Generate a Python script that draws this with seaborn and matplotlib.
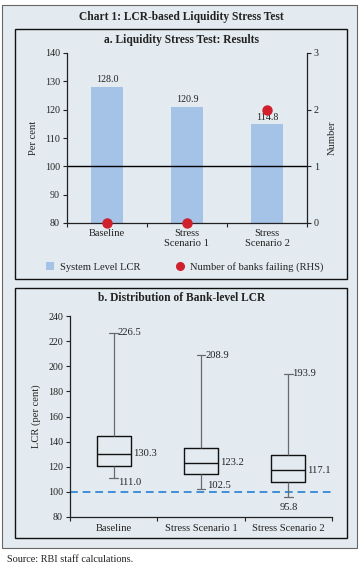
import numpy as np
import pandas as pd
import matplotlib
matplotlib.use("Agg")
import matplotlib.pyplot as plt
from matplotlib.patches import Rectangle, Patch
from matplotlib.lines import Line2D
import seaborn as sns

# ---------------- data ----------------
scenarios_a = ["Baseline", "Stress\nScenario 1", "Stress\nScenario 2"]
system_lcr = [128.0, 120.9, 114.8]
banks_failing = [0, 0, 2]

scenarios_b = ["Baseline", "Stress Scenario 1", "Stress Scenario 2"]
whisker_low = [111.0, 102.5, 95.8]
q1 = [120.9, 114.6, 108.2]
median = [130.3, 123.2, 117.1]
q3 = [144.3, 135.3, 129.7]
whisker_high = [226.5, 208.9, 193.9]

left_ticks_a = [80, 90, 100, 110, 120, 130, 140]
right_ticks_a = [0, 1, 2, 3]
ticks_b = [80, 100, 120, 140, 160, 180, 200, 220, 240]

# ---------------- style ----------------
sns.set_style("ticks")
plt.rcParams['font.family'] = ['Liberation Serif', 'DejaVu Serif']
plt.rcParams['axes.edgecolor'] = '#222222'
plt.rcParams['xtick.color'] = '#222222'
plt.rcParams['ytick.color'] = '#222222'
plt.rcParams['text.color'] = '#222222'

BG = '#e3ebf0'
BAR = '#a4c3e7'
RED = '#d0202e'
DASH = '#3f8fd8'
W, H = 362, 570

fig = plt.figure(figsize=(W / 100, H / 100), dpi=100, facecolor='white')


def frect(x0, y0, x1, y1, **kw):
    r = Rectangle((x0 / W, 1 - y1 / H), (x1 - x0) / W, (y1 - y0) / H,
                  transform=fig.transFigure, zorder=-2, **kw)
    fig.add_artist(r)


frect(2, 5, 357, 548, facecolor=BG, edgecolor='#666666', lw=0.8)
frect(15, 29, 347, 279, facecolor='none', edgecolor='#111111', lw=1.0)
frect(15, 288, 347, 538, facecolor='none', edgecolor='#111111', lw=1.0)

fig.text(181.5 / W, 1 - 17 / H, "Chart 1: LCR-based Liquidity Stress Test",
         ha='center', va='center', fontsize=8.3, fontweight='bold')
fig.text(181.5 / W, 1 - 40 / H, "a. Liquidity Stress Test: Results",
         ha='center', va='center', fontsize=8.3, fontweight='bold')
fig.text(182 / W, 1 - 298 / H, "b. Distribution of Bank-level LCR",
         ha='center', va='center', fontsize=8.3, fontweight='bold')
fig.text(7 / W, 1 - 559 / H, "Source: RBI staff calculations.",
         ha='left', va='center', fontsize=7.4)

TS = 7.2   # tick number size
LS = 7.6   # label text size

# ---------------- panel a ----------------
ax = fig.add_axes([67 / W, 1 - 223 / H, 240 / W, 170 / H])
ax.set_facecolor('none')
df_a = pd.DataFrame({"scenario": scenarios_a, "lcr": system_lcr,
                     "banks": banks_failing})
sns.barplot(data=df_a, x="scenario", y="lcr", color=BAR, saturation=1,
            width=0.4, ax=ax, zorder=1, edgecolor='none', linewidth=0)
ax.bar_label(ax.containers[0], fmt='%.1f', padding=2, fontsize=TS)
ax.axhline(100, color='black', lw=1.0, zorder=2)
ax.set_ylim(80, 140)
ax.set_yticks(left_ticks_a)
ax.set_xlim(-0.5, 2.5)
ax.set_ylabel("Per cent", fontsize=LS, labelpad=5)
ax.set_xlabel("")

ax2 = ax.twinx()
ax2.set_facecolor('none')
sns.stripplot(data=df_a, x="scenario", y="banks", jitter=False, color=RED,
              size=7.5, linewidth=0, ax=ax2, clip_on=False, zorder=5)
ax2.set_ylim(0, 3)
ax2.set_yticks(right_ticks_a)
ax2.set_ylabel("Number", fontsize=LS, labelpad=6)
ax2.set_xlim(-0.5, 2.5)
ax2.set_xlabel("")

for a in (ax, ax2):
    a.spines['top'].set_visible(False)
    a.tick_params(axis='y', labelsize=TS, length=3, width=0.8, pad=2)
ax.spines['right'].set_visible(False)
ax.spines['left'].set_linewidth(0.9)
ax.spines['bottom'].set_linewidth(0.9)
ax2.spines['right'].set_linewidth(0.9)
ax2.spines['left'].set_visible(False)
ax2.spines['bottom'].set_visible(False)

ax.set_xticks([-0.5, 0.5, 1.5, 2.5])
ax.set_xticklabels([])
ax.set_xticks([0, 1, 2], minor=True)
ax.set_xticklabels(scenarios_a, minor=True)
ax.tick_params(axis='x', which='major', length=3, width=0.8)
ax.tick_params(axis='x', which='minor', length=0, labelsize=LS, pad=4)
ax2.tick_params(axis='x', which='both', length=0, labelbottom=False)

handles = [Patch(facecolor=BAR, edgecolor='none'),
           Line2D([], [], marker='o', color=RED, linestyle='none', markersize=5.5)]
fig.legend(handles, ["System Level LCR", "Number of banks failing (RHS)"],
           loc='center left', bbox_to_anchor=(46 / W, 1 - 267 / H), ncol=2,
           frameon=False, fontsize=LS, columnspacing=3.4, handlelength=0.8,
           handleheight=0.8, handletextpad=0.5, borderaxespad=0, borderpad=0)

# ---------------- panel b ----------------
bx = fig.add_axes([70 / W, 1 - 517 / H, 262 / W, 201 / H])
bx.set_facecolor('none')
rows = []
for s, lo, a1, m, a3, hi in zip(scenarios_b, whisker_low, q1, median, q3, whisker_high):
    for v in (lo, a1, m, a3, hi):
        rows.append({"scenario": s, "lcr": v})
df_b = pd.DataFrame(rows)
bx.axhline(100, color=DASH, lw=1.4, ls=(0, (4, 2.5)), zorder=1)
sns.boxplot(data=df_b, x="scenario", y="lcr", whis=(0, 100), fill=False,
            color='black', width=0.39, linewidth=1.0, ax=bx,
            whiskerprops=dict(color='#6a6a6a', lw=0.9),
            capprops=dict(color='#6a6a6a', lw=0.9),
            boxprops=dict(color='#111111'),
            medianprops=dict(color='#111111'),
            capwidths=0.1, zorder=3)
bx.set_ylim(80, 240)
bx.set_yticks(ticks_b)
bx.set_xlim(-0.5, 2.5)
bx.set_ylabel("LCR (per cent)", fontsize=LS, labelpad=5)
bx.set_xlabel("")
for sp in ('top', 'right'):
    bx.spines[sp].set_visible(False)
bx.spines['left'].set_linewidth(0.9)
bx.spines['bottom'].set_linewidth(0.9)
bx.tick_params(axis='y', labelsize=TS, length=3, width=0.8, pad=2)
bx.set_xticks([-0.5, 0.5, 1.5, 2.5])
bx.set_xticklabels([])
bx.set_xticks([0, 1, 2], minor=True)
bx.set_xticklabels(scenarios_b, minor=True)
bx.tick_params(axis='x', which='major', length=3, width=0.8)
bx.tick_params(axis='x', which='minor', length=0, labelsize=LS, pad=5)

half = 0.39 / 2
for i in range(3):
    bx.annotate(f"{whisker_high[i]:.1f}", (i, whisker_high[i]), xytext=(3, 0),
                textcoords='offset points', va='center', ha='left', fontsize=LS)
    bx.annotate(f"{median[i]:.1f}", (i + half, median[i]), xytext=(1.5, 0),
                textcoords='offset points', va='center', ha='left', fontsize=LS)
low_off = [(3, -3), (4, 2.5), (0, -7.5)]
for i in range(3):
    ha = 'center' if i == 2 else 'left'
    bx.annotate(f"{whisker_low[i]:.1f}", (i, whisker_low[i]), xytext=low_off[i],
                textcoords='offset points', va='center', ha=ha, fontsize=LS)

fig.savefig("out.png", dpi=100, facecolor='white')
